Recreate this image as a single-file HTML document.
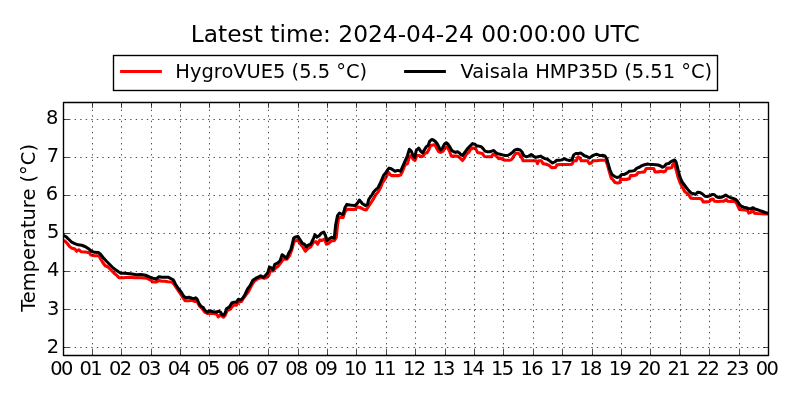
<!DOCTYPE html>
<html><head><meta charset="utf-8"><title>Temperature</title><style>html,body{margin:0;padding:0;background:#fff;width:800px;height:400px;overflow:hidden}svg{display:block;will-change:transform}</style></head><body>
<svg width="800" height="400" viewBox="0 0 800 400">
<rect x="0" y="0" width="800" height="400" fill="#fff"/>
<defs><clipPath id="ax"><rect x="63.50" y="102.50" width="705.00" height="253.00"/></clipPath></defs>
<g clip-path="url(#ax)" fill="none" stroke-linejoin="round" stroke-linecap="square">
<polyline stroke="#ff0000" stroke-width="3.100" points="63.60,240.75 64.50,240.75 66.00,242.10 67.50,243.75 69.75,246.75 72.00,248.25 75.00,249.00 76.50,251.25 78.75,249.75 81.00,251.70 85.50,252.00 89.25,252.75 90.75,255.00 94.50,255.75 99.00,255.75 100.50,258.75 102.75,262.50 105.00,265.50 108.00,267.00 111.00,270.00 114.00,273.00 117.00,275.70 119.25,277.80 123.00,277.80 129.00,277.20 135.00,277.80 141.00,277.80 147.00,278.25 150.75,280.20 153.00,282.00 156.00,282.00 159.00,280.50 162.00,281.25 165.00,281.25 168.00,281.70 171.75,282.00 174.00,284.25 177.00,288.75 180.00,293.25 183.00,297.75 185.25,300.75 189.00,300.75 192.00,300.30 195.00,301.50 197.25,301.50 199.50,306.00 202.50,309.00 204.75,312.00 207.75,313.50 213.00,313.20 216.75,314.25 218.25,316.80 220.50,315.00 223.50,317.25 225.00,315.75 227.25,310.50 230.25,309.00 233.25,305.25 236.25,305.25 238.50,302.25 241.50,301.50 243.75,297.75 246.00,294.75 248.50,291.50 251.13,286.25 253.75,281.88 256.38,279.60 259.00,278.38 261.63,277.50 264.25,278.38 266.88,277.50 268.63,275.75 270.38,270.85 273.00,270.85 275.63,267.88 278.25,266.13 280.88,262.63 283.50,259.13 287.00,259.13 289.63,255.63 291.90,249.50 294.00,241.63 295.75,240.75 297.50,239.88 300.65,244.25 302.75,246.88 305.38,251.25 307.65,248.63 310.63,246.88 313.25,242.50 315.88,241.63 317.63,244.25 319.90,239.88 322.00,240.40 324.63,239.00 326.38,244.25 328.65,243.38 331.63,240.75 334.25,240.75 336.25,237.50 337.50,225.00 338.75,217.50 343.12,217.50 345.00,211.88 346.88,209.38 355.00,209.38 357.50,206.88 360.00,207.50 363.75,209.38 366.25,210.00 373.12,199.38 375.62,195.00 378.12,191.88 380.62,187.50 382.50,182.50 384.38,180.00 386.25,176.88 388.50,172.50 390.00,174.38 391.50,175.62 395.00,175.62 398.75,175.62 400.62,175.00 402.50,171.25 405.00,164.88 407.50,163.62 409.38,156.75 411.25,155.50 413.12,159.25 415.00,160.50 416.88,155.50 419.38,155.50 421.25,156.75 423.12,156.12 425.00,153.00 426.88,153.00 428.75,149.88 430.62,145.50 433.12,144.88 435.00,144.88 436.88,148.62 438.75,151.75 440.62,152.38 443.12,151.12 445.00,148.00 446.88,146.75 448.12,148.62 450.00,152.38 451.25,156.12 453.75,156.12 456.25,156.12 458.75,156.75 460.62,158.62 462.50,160.50 464.38,158.00 466.25,154.25 468.75,152.38 470.62,149.25 473.12,148.00 475.62,148.62 477.50,152.38 480.00,153.00 482.50,153.62 484.38,156.50 487.50,156.75 491.25,156.75 493.12,154.25 495.00,154.88 496.88,156.75 498.75,158.62 500.00,158.00 502.50,159.25 505.00,160.25 507.50,160.25 510.00,160.25 511.88,159.25 513.75,156.12 515.62,153.62 518.12,153.00 520.00,154.88 521.88,158.00 523.12,160.75 526.25,160.75 530.00,160.75 533.75,160.75 536.25,160.75 537.50,163.62 538.75,160.75 541.25,160.75 543.12,163.62 546.25,164.25 549.38,165.50 551.25,167.38 553.12,167.75 555.62,167.38 556.88,164.88 560.00,164.50 565.00,164.50 568.75,164.50 571.88,164.25 573.75,160.75 576.25,160.75 578.12,156.75 580.00,158.00 581.25,160.75 585.00,160.75 587.50,160.75 589.38,163.62 591.25,163.00 593.12,160.75 596.25,160.75 600.00,160.25 602.50,160.25 605.62,160.25 607.50,165.00 609.38,171.88 611.25,178.12 613.12,180.00 615.00,182.50 617.50,183.12 619.75,182.50 620.62,179.38 623.12,179.38 626.25,179.38 629.38,178.75 630.62,175.62 633.75,175.62 636.25,175.00 638.12,172.50 641.25,172.25 644.38,171.88 646.25,168.50 650.00,168.50 653.75,168.50 655.00,171.88 658.12,171.88 661.25,171.25 663.75,171.88 665.62,171.00 666.88,168.12 670.00,168.12 671.88,167.50 672.50,165.00 674.38,163.12 676.25,170.00 678.12,177.50 680.00,182.50 682.50,187.50 685.00,191.88 687.50,193.75 689.75,196.25 690.62,198.12 693.75,198.50 696.88,198.50 700.00,198.50 701.88,199.38 703.12,201.88 706.25,201.88 709.38,201.50 711.25,199.38 713.12,199.00 714.38,201.25 717.50,201.50 721.25,201.25 723.75,201.25 726.25,199.38 727.50,201.25 731.25,201.50 735.00,201.50 736.88,203.75 739.38,209.38 741.88,209.75 745.00,210.00 747.50,210.62 748.75,213.12 750.62,212.50 752.50,210.00 754.38,213.12 757.50,213.50 761.25,213.75 765.00,214.00 767.50,214.00 768.50,214.00"/>
<polyline stroke="#000000" stroke-width="3.000" points="63.60,235.50 63.75,235.50 66.00,236.70 68.25,238.80 71.25,241.80 74.25,243.30 78.00,244.80 81.75,245.25 85.50,246.75 88.50,248.70 91.50,251.25 94.50,252.30 98.25,252.45 100.50,254.25 103.50,258.00 106.50,261.30 109.50,264.30 112.50,267.30 115.50,269.70 118.50,271.80 120.75,273.30 124.50,273.30 130.50,273.75 136.50,274.80 141.00,274.50 145.50,275.25 150.00,277.20 153.00,278.25 156.00,279.00 159.00,276.75 162.00,277.20 165.00,277.20 168.00,277.20 171.00,278.70 173.25,279.75 175.50,284.25 178.50,288.75 181.50,292.50 183.75,296.25 186.00,297.75 189.00,297.30 192.00,298.20 194.25,298.80 195.75,297.75 197.25,299.25 198.75,303.00 201.00,306.30 203.25,307.50 204.75,310.20 207.00,312.00 210.00,310.80 213.00,311.70 216.00,312.00 219.00,311.25 220.50,312.00 222.00,314.70 223.50,315.30 225.00,313.20 226.50,308.70 229.50,306.75 231.75,303.00 234.00,302.25 236.25,302.25 238.50,299.25 240.75,300.00 243.00,297.75 245.25,294.00 247.63,288.88 250.25,285.38 252.88,280.13 255.50,278.38 258.13,277.15 260.75,275.75 263.38,277.50 266.00,274.88 267.75,272.60 269.50,267.00 271.25,267.88 273.00,269.63 274.75,264.38 277.38,263.15 280.00,260.88 282.10,254.75 284.38,256.50 286.65,258.25 288.75,253.00 290.85,249.50 292.25,244.25 293.65,238.13 295.75,236.90 297.85,236.38 300.13,239.88 302.40,243.38 304.50,244.25 306.25,246.88 308.00,245.13 310.63,244.25 313.25,239.00 315.00,234.63 316.75,237.25 319.38,235.50 321.13,233.40 323.75,232.00 325.50,235.50 326.90,240.75 329.00,239.00 331.63,237.25 334.25,238.13 334.38,237.50 335.62,225.00 337.50,215.62 339.38,213.12 341.88,214.38 343.12,214.38 345.00,207.50 346.88,204.38 350.00,205.00 355.00,205.62 357.50,203.12 359.38,200.00 362.50,203.75 365.62,205.62 367.50,204.38 368.75,199.38 371.88,195.00 373.75,191.88 375.62,189.75 378.12,187.50 380.00,183.75 381.88,179.38 383.75,175.00 385.62,173.12 387.50,170.00 389.00,168.12 391.25,168.75 393.12,170.00 395.00,171.25 396.88,170.62 398.75,170.62 400.62,171.25 402.50,166.88 405.62,159.88 407.50,155.50 409.38,149.25 411.25,151.12 413.12,155.50 414.75,157.38 416.25,150.50 418.75,148.00 420.62,151.12 422.50,153.00 424.38,149.88 426.25,146.75 428.12,145.50 429.75,141.12 431.88,139.50 433.75,140.25 435.62,141.75 437.50,144.25 439.38,148.00 440.62,149.88 442.50,148.00 444.38,144.25 446.25,142.75 448.12,144.25 450.00,147.38 451.88,150.50 453.75,151.75 455.62,152.38 457.50,151.75 459.38,153.00 461.25,154.88 462.50,155.50 464.38,153.00 466.25,150.50 468.12,148.00 470.00,146.12 472.50,143.62 475.00,144.25 476.88,146.12 478.75,146.12 481.25,146.75 483.12,148.62 485.00,151.12 487.50,151.75 490.00,151.75 491.88,151.12 493.75,150.50 495.62,152.38 497.50,153.62 500.00,154.25 502.50,154.88 505.00,155.50 507.50,155.50 510.00,154.25 512.50,152.38 515.00,149.88 517.50,149.25 520.00,149.88 521.88,151.75 523.75,155.50 526.25,156.75 528.75,156.12 531.25,154.50 533.12,156.12 535.62,157.38 538.12,156.75 540.62,156.12 542.50,157.38 545.00,158.62 547.50,159.25 550.00,161.12 552.50,163.00 555.00,161.75 556.88,160.25 559.38,160.25 561.88,159.88 564.38,158.62 566.88,159.88 569.38,160.50 571.88,159.88 573.75,154.88 575.62,153.62 578.12,153.62 580.62,153.00 582.50,154.25 584.38,155.75 586.88,156.50 589.38,158.00 591.88,156.12 594.38,154.88 596.88,154.25 600.00,155.62 602.50,155.25 605.00,156.00 606.88,158.75 608.12,163.75 610.00,170.00 611.88,174.38 614.38,176.25 616.88,177.50 619.38,176.88 621.88,174.38 624.38,174.38 626.88,173.12 629.38,171.25 631.88,171.00 634.38,170.62 636.88,168.12 639.38,167.25 641.88,165.62 644.38,164.75 647.50,164.00 650.00,164.38 652.50,164.38 655.62,164.75 658.12,165.00 660.62,166.00 662.50,167.25 664.38,166.25 666.25,164.00 668.75,163.50 670.62,161.88 673.12,160.62 674.75,160.00 676.00,161.88 677.50,167.50 679.00,173.75 680.62,178.75 682.50,182.50 686.25,187.50 688.75,190.62 691.25,193.12 693.75,193.75 695.62,194.38 697.50,192.25 700.00,192.50 702.50,194.00 705.00,196.25 707.50,196.50 710.00,195.62 712.50,194.38 714.38,194.75 716.25,196.50 718.75,197.50 721.25,197.25 723.75,196.25 725.62,195.00 728.12,196.50 730.62,197.75 733.12,198.50 735.62,199.38 737.50,201.25 739.38,204.38 741.25,206.25 743.75,207.25 746.25,207.75 748.75,208.75 751.25,208.50 753.12,207.75 755.00,209.00 757.50,209.75 760.00,210.62 762.50,211.50 765.00,212.50 767.50,213.12 768.50,213.12"/>
</g>
<path d="M92.50 355.50L92.50 102.50M121.50 355.50L121.50 102.50M151.50 355.50L151.50 102.50M180.50 355.50L180.50 102.50M209.50 355.50L209.50 102.50M239.50 355.50L239.50 102.50M268.50 355.50L268.50 102.50M298.50 355.50L298.50 102.50M327.50 355.50L327.50 102.50M356.50 355.50L356.50 102.50M386.50 355.50L386.50 102.50M415.50 355.50L415.50 102.50M445.50 355.50L445.50 102.50M474.50 355.50L474.50 102.50M503.50 355.50L503.50 102.50M533.50 355.50L533.50 102.50M562.50 355.50L562.50 102.50M592.50 355.50L592.50 102.50M621.50 355.50L621.50 102.50M650.50 355.50L650.50 102.50M680.50 355.50L680.50 102.50M709.50 355.50L709.50 102.50M739.50 355.50L739.50 102.50M63.50 347.50L768.50 347.50M63.50 309.50L768.50 309.50M63.50 271.50L768.50 271.50M63.50 233.50L768.50 233.50M63.50 195.50L768.50 195.50M63.50 157.50L768.50 157.50M63.50 119.50L768.50 119.50" fill="none" stroke="#000" stroke-width="0.694" stroke-dasharray="1.389 4.167"/>
<path d="M92.50 355.50L92.50 349.94M92.50 102.50L92.50 108.06M121.50 355.50L121.50 349.94M121.50 102.50L121.50 108.06M151.50 355.50L151.50 349.94M151.50 102.50L151.50 108.06M180.50 355.50L180.50 349.94M180.50 102.50L180.50 108.06M209.50 355.50L209.50 349.94M209.50 102.50L209.50 108.06M239.50 355.50L239.50 349.94M239.50 102.50L239.50 108.06M268.50 355.50L268.50 349.94M268.50 102.50L268.50 108.06M298.50 355.50L298.50 349.94M298.50 102.50L298.50 108.06M327.50 355.50L327.50 349.94M327.50 102.50L327.50 108.06M356.50 355.50L356.50 349.94M356.50 102.50L356.50 108.06M386.50 355.50L386.50 349.94M386.50 102.50L386.50 108.06M415.50 355.50L415.50 349.94M415.50 102.50L415.50 108.06M445.50 355.50L445.50 349.94M445.50 102.50L445.50 108.06M474.50 355.50L474.50 349.94M474.50 102.50L474.50 108.06M503.50 355.50L503.50 349.94M503.50 102.50L503.50 108.06M533.50 355.50L533.50 349.94M533.50 102.50L533.50 108.06M562.50 355.50L562.50 349.94M562.50 102.50L562.50 108.06M592.50 355.50L592.50 349.94M592.50 102.50L592.50 108.06M621.50 355.50L621.50 349.94M621.50 102.50L621.50 108.06M650.50 355.50L650.50 349.94M650.50 102.50L650.50 108.06M680.50 355.50L680.50 349.94M680.50 102.50L680.50 108.06M709.50 355.50L709.50 349.94M709.50 102.50L709.50 108.06M739.50 355.50L739.50 349.94M739.50 102.50L739.50 108.06M63.50 347.50L69.06 347.50M768.50 347.50L762.94 347.50M63.50 309.50L69.06 309.50M768.50 309.50L762.94 309.50M63.50 271.50L69.06 271.50M768.50 271.50L762.94 271.50M63.50 233.50L69.06 233.50M768.50 233.50L762.94 233.50M63.50 195.50L69.06 195.50M768.50 195.50L762.94 195.50M63.50 157.50L69.06 157.50M768.50 157.50L762.94 157.50M63.50 119.50L69.06 119.50M768.50 119.50L762.94 119.50" fill="none" stroke="#000" stroke-width="0.694"/>
<rect x="63.5" y="102.5" width="705" height="253" fill="none" stroke="#000" stroke-linejoin="round" stroke-width="1.389"/>
<g style="font-family:'DejaVu Sans','Liberation Sans',sans-serif;font-size:19.444px" fill="#000"><text x="60.91" y="375.33" text-anchor="middle" letter-spacing="-1.60">00</text><text x="90.30" y="375.33" text-anchor="middle" letter-spacing="-1.60">01</text><text x="119.70" y="375.33" text-anchor="middle" letter-spacing="-1.60">02</text><text x="149.09" y="375.33" text-anchor="middle" letter-spacing="-1.60">03</text><text x="178.49" y="375.33" text-anchor="middle" letter-spacing="-1.60">04</text><text x="207.89" y="375.33" text-anchor="middle" letter-spacing="-1.60">05</text><text x="237.28" y="375.33" text-anchor="middle" letter-spacing="-1.60">06</text><text x="266.68" y="375.33" text-anchor="middle" letter-spacing="-1.60">07</text><text x="296.08" y="375.33" text-anchor="middle" letter-spacing="-1.60">08</text><text x="325.47" y="375.33" text-anchor="middle" letter-spacing="-1.60">09</text><text x="354.87" y="375.33" text-anchor="middle" letter-spacing="-1.60">10</text><text x="384.27" y="375.33" text-anchor="middle" letter-spacing="-1.60">11</text><text x="413.66" y="375.33" text-anchor="middle" letter-spacing="-1.60">12</text><text x="443.06" y="375.33" text-anchor="middle" letter-spacing="-1.60">13</text><text x="472.46" y="375.33" text-anchor="middle" letter-spacing="-1.60">14</text><text x="501.85" y="375.33" text-anchor="middle" letter-spacing="-1.60">15</text><text x="531.25" y="375.33" text-anchor="middle" letter-spacing="-1.60">16</text><text x="560.65" y="375.33" text-anchor="middle" letter-spacing="-1.60">17</text><text x="590.04" y="375.33" text-anchor="middle" letter-spacing="-1.60">18</text><text x="619.44" y="375.33" text-anchor="middle" letter-spacing="-1.60">19</text><text x="648.83" y="375.33" text-anchor="middle" letter-spacing="-1.60">20</text><text x="678.23" y="375.33" text-anchor="middle" letter-spacing="-1.60">21</text><text x="707.63" y="375.33" text-anchor="middle" letter-spacing="-1.60">22</text><text x="737.02" y="375.33" text-anchor="middle" letter-spacing="-1.60">23</text><text x="766.42" y="375.33" text-anchor="middle" letter-spacing="-1.60">00</text><text x="59.14" y="352.86" text-anchor="end">2</text><text x="59.34" y="314.86" text-anchor="end">3</text><text x="59.34" y="275.86" text-anchor="end">4</text><text x="59.29" y="237.86" text-anchor="end">5</text><text x="58.04" y="199.96" text-anchor="end">6</text><text x="59.04" y="161.86" text-anchor="end">7</text><text x="58.39" y="123.76" text-anchor="end">8</text></g>
<text style="font-family:'DejaVu Sans','Liberation Sans',sans-serif;font-size:19.444px" x="34.68" y="227.9" text-anchor="middle" transform="rotate(-90 34.68 227.9)">Temperature (°C)</text>
<text style="font-family:'DejaVu Sans','Liberation Sans',sans-serif;font-size:23.333px" x="415.26" y="42.1" text-anchor="middle">Latest time: 2024-04-24 00:00:00 UTC</text>
<rect x="113.5" y="55.5" width="604" height="35" fill="#fff" stroke="#000" stroke-width="1.389"/>
<path d="M121.5 71.5L160.5 71.5" stroke="#ff0000" stroke-width="2.778" stroke-linecap="square"/>
<path d="M405.5 71.5L444.5 71.5" stroke="#000" stroke-width="2.778" stroke-linecap="square"/>
<text style="font-family:'DejaVu Sans','Liberation Sans',sans-serif;font-size:19.444px" x="175.36" y="77.7">HygroVUE5 (5.5 °C)</text>
<text style="font-family:'DejaVu Sans','Liberation Sans',sans-serif;font-size:19.444px" x="460.57" y="77.7">Vaisala HMP35D (5.51 °C)</text>
</svg>
</body></html>
